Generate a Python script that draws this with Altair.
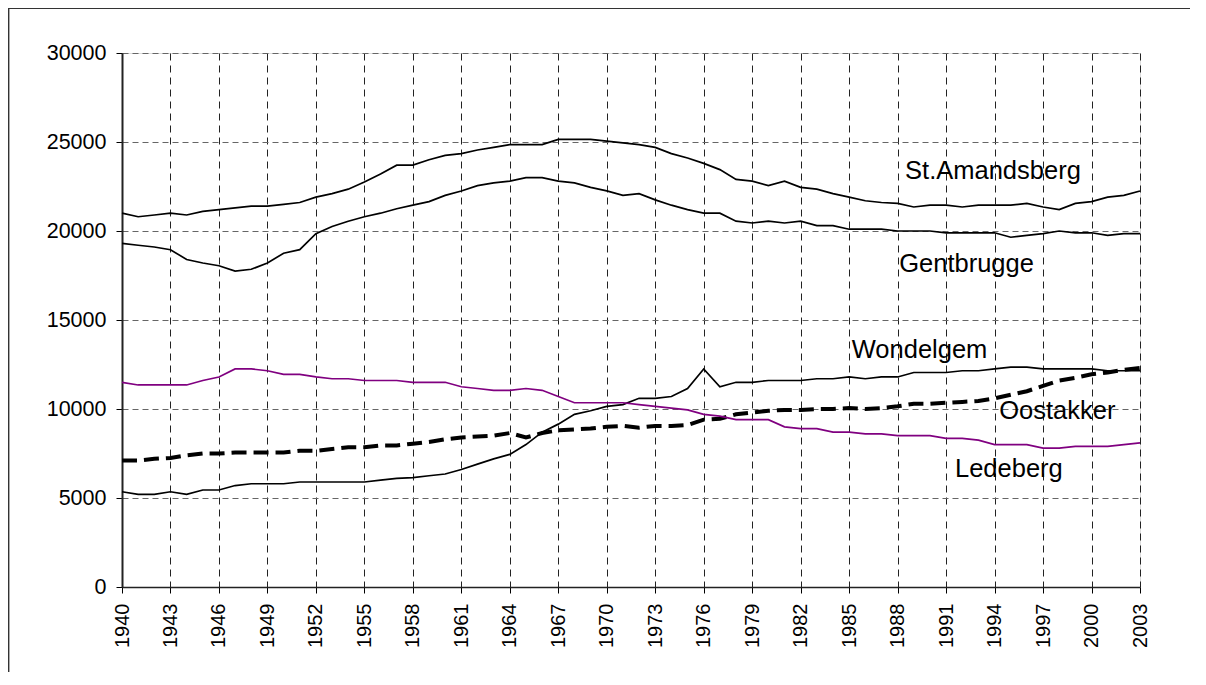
import altair as alt
import pandas as pd

years = list(range(1940, 2004))

st_amandsberg = [21000, 20800, 20900, 21000, 20900, 21100, 21200, 21300, 21400, 21400,
                 21500, 21600, 21900, 22100, 22350, 22750, 23200, 23700, 23700, 24000,
                 24250, 24350, 24550, 24700, 24850, 24850, 24850, 25150, 25150, 25150,
                 25050, 24950, 24850, 24700, 24350, 24100, 23800, 23450, 22900, 22800,
                 22550, 22800, 22450, 22350, 22100, 21900, 21700, 21600, 21550, 21350,
                 21450, 21450, 21350, 21450, 21450, 21450, 21550, 21350, 21200, 21550,
                 21650, 21900, 22000, 22250]

gentbrugge = [19300, 19200, 19100, 18950, 18400, 18200, 18050, 17750, 17850, 18200,
              18750, 18950, 19850, 20250, 20550, 20800, 21000, 21250, 21450, 21650,
              22000, 22250, 22550, 22700, 22800, 23000, 23000, 22800, 22700, 22450,
              22250, 22000, 22100, 21750, 21450, 21200, 21000, 21000, 20550, 20450,
              20550, 20450, 20550, 20300, 20300, 20100, 20100, 20100, 20000, 20000,
              20000, 19900, 19900, 19900, 19900, 19650, 19750, 19850, 20000, 19900,
              19900, 19750, 19850, 19850]

wondelgem = [5350, 5200, 5200, 5350, 5200, 5450, 5450, 5700, 5800, 5800,
             5800, 5900, 5900, 5900, 5900, 5900, 6000, 6100, 6150, 6250,
             6350, 6600, 6900, 7200, 7450, 8000, 8700, 9150, 9700, 9900,
             10150, 10250, 10600, 10600, 10700, 11150, 12250, 11250, 11500, 11500,
             11600, 11600, 11600, 11700, 11700, 11800, 11700, 11800, 11800, 12050,
             12050, 12050, 12150, 12150, 12250, 12350, 12350, 12250, 12250, 12250,
             12250, 12150, 12150, 12150]

oostakker = [7100, 7100, 7200, 7250, 7400, 7500, 7500, 7550, 7550, 7550,
             7550, 7650, 7650, 7750, 7850, 7850, 7950, 7950, 8050, 8150,
             8300, 8400, 8450, 8500, 8650, 8400, 8650, 8800, 8850, 8900,
             9000, 9050, 8950, 9050, 9050, 9100, 9400, 9450, 9700, 9800,
             9900, 9950, 9950, 10000, 10000, 10050, 10000, 10050, 10150, 10300,
             10300, 10350, 10400, 10450, 10600, 10800, 11000, 11300, 11600, 11750,
             11950, 12050, 12200, 12300]

ledeberg = [11500, 11350, 11350, 11350, 11350, 11600, 11800, 12250, 12250, 12150,
            11950, 11950, 11800, 11700, 11700, 11600, 11600, 11600, 11500, 11500,
            11500, 11250, 11150, 11050, 11050, 11150, 11050, 10700, 10350, 10350,
            10350, 10350, 10250, 10150, 10050, 9950, 9700, 9600, 9400, 9400,
            9400, 9000, 8900, 8900, 8700, 8700, 8600, 8600, 8500, 8500,
            8500, 8350, 8350, 8250, 8000, 8000, 8000, 7800, 7800, 7900,
            7900, 7900, 8000, 8100]

series_names = ["St.Amandsberg", "Gentbrugge", "Wondelgem", "Oostakker", "Ledeberg"]
series_values = [st_amandsberg, gentbrugge, wondelgem, oostakker, ledeberg]

label_names = ["St.Amandsberg", "Gentbrugge", "Wondelgem", "Oostakker", "Ledeberg"]
label_years = [1988.46, 1988.10, 1985.16, 1994.29, 1991.55]
label_values = [22905, 17714, 12849, 9421, 6163]

x_ticks = list(range(1940, 2004, 3))
y_ticks = list(range(0, 30001, 5000))

rows = []
for name, vals in zip(series_names, series_values):
    for yr, v in zip(years, vals):
        rows.append({"year": yr, "value": v, "series": name})
df = pd.DataFrame(rows)
labels_df = pd.DataFrame({"name": label_names, "year": label_years, "value": label_values})

FONT = "Liberation Sans"

x_scale = alt.Scale(domain=[1940, 2003], nice=False, zero=False)
y_scale = alt.Scale(domain=[0, 30000], nice=False)

x_enc = alt.X("year:Q", scale=x_scale, axis=alt.Axis(
    values=x_ticks, format="d", title=None, labelAngle=-90, labelFontSize=20,
    labelFont=FONT, labelColor="black", labelPadding=10, tickSize=6,
    tickColor="black", domainColor="#222222", domainWidth=1.5,
    grid=True, gridColor="#222222", gridDash=[7, 5], gridWidth=1,
    labelOverlap=False, labelFlush=False))
y_enc = alt.Y("value:Q", scale=y_scale, axis=alt.Axis(
    values=y_ticks, format="d", title=None, labelFontSize=21.5, labelFont=FONT,
    labelColor="black", labelPadding=10, tickSize=6, tickColor="black",
    domainColor="#222222", domainWidth=2, grid=True, gridColor="#666666",
    gridDash=[6, 4], gridWidth=1.2))

base = alt.Chart(df)

styles = {
    "St.Amandsberg": dict(color="black", strokeWidth=1.7),
    "Gentbrugge": dict(color="black", strokeWidth=1.7),
    "Wondelgem": dict(color="black", strokeWidth=1.7),
    "Ledeberg": dict(color="#800080", strokeWidth=1.7),
    "Oostakker": dict(color="black", strokeWidth=4, strokeDash=[15, 7]),
}

layers = []
for name in series_names:
    st = styles[name]
    layers.append(
        base.transform_filter(alt.datum.series == name)
        .mark_line(**st)
        .encode(x=x_enc, y=y_enc)
    )

texts = alt.Chart(labels_df).mark_text(
    align="left", baseline="alphabetic", fontSize=25.5, font=FONT, color="black"
).encode(x=alt.X("year:Q", scale=x_scale), y=alt.Y("value:Q", scale=y_scale), text="name:N")

frame_top = alt.Chart(labels_df).mark_rule(
    stroke="#333333", strokeWidth=1.2, clip=False
).encode(x=alt.value(-114), x2=alt.value(1200), y=alt.value(-44.5))
frame_left = alt.Chart(labels_df).mark_rule(
    stroke="#333333", strokeWidth=1.2, clip=False
).encode(x=alt.value(-113.5), y=alt.value(-45), y2=alt.value(800))

chart = alt.layer(frame_top, frame_left, *layers, texts).properties(
    width=1018, height=534,
    autosize=alt.AutoSizeParams(type="none"),
    padding={"left": 114, "top": 45, "right": 50, "bottom": 85},
).configure_view(
    stroke="#888888", strokeWidth=1.5
).configure(background="white")

chart.save("out.html", embed_options={"renderer": "svg", "actions": False})
